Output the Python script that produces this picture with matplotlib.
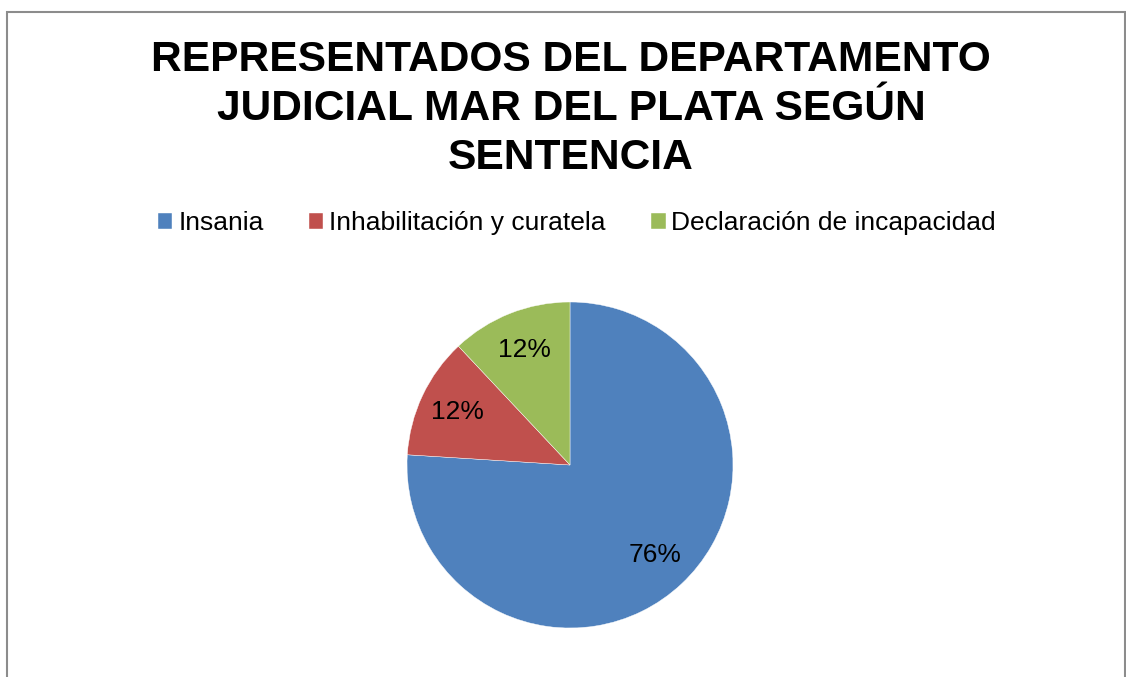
import matplotlib
matplotlib.use("Agg")
import matplotlib.pyplot as plt
from matplotlib.patches import Rectangle

plt.rcParams['font.family'] = ['Liberation Sans', 'DejaVu Sans']

title = "REPRESENTADOS DEL DEPARTAMENTO\nJUDICIAL MAR DEL PLATA SEGÚN\nSENTENCIA"
categories = ["Insania", "Inhabilitación y curatela", "Declaración de incapacidad"]
values = [76, 12, 12]
colors = ["#4F81BD", "#C0504D", "#9BBB59"]

W, H = 1126, 677
fig = plt.figure(figsize=(W / 100, H / 100), dpi=100)

# frame
fig.add_artist(Rectangle((7 / W, -0.05), (1125 - 7) / W, (H - 12) / H + 0.05,
                         transform=fig.transFigure, fill=False,
                         edgecolor="#8C8C8C", linewidth=1.5))

fig.text(571 / W, 1 - 109 / H, title, ha="center", va="center",
         fontsize=30.6, fontweight="bold", linespacing=1.28)

cx, cy, r = 570, 465, 163
ax = fig.add_axes([(cx - r) / W, (H - cy - r) / H, 2 * r / W, 2 * r / H])
wedges, texts, autotexts = ax.pie(values, colors=colors, startangle=90, counterclock=False,
                                  autopct='%1.0f%%', pctdistance=0.76, radius=1,
                                  wedgeprops=dict(edgecolor="white", linewidth=0.3),
                                  textprops=dict(fontsize=19, color="black"))
ax.set_xlim(-1, 1)
ax.set_ylim(-1, 1)
ax.set_aspect("equal")
ax.axis("off")

leg = fig.legend(wedges, categories, loc="center", bbox_to_anchor=(577 / W, 1 - 223 / H),
                 ncol=3, frameon=False, fontsize=19, handlelength=0.55, handleheight=0.55,
                 handletextpad=0.22, columnspacing=1.72, borderpad=0)

fig.savefig("out.png", dpi=100)
